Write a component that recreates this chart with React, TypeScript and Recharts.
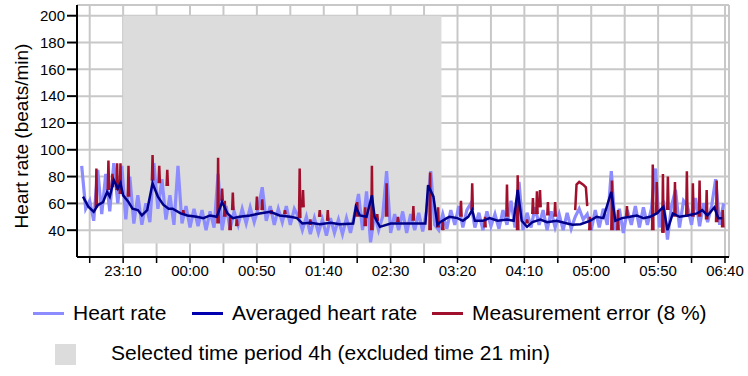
import { LineChart, Line, XAxis, YAxis, CartesianGrid, ReferenceArea, ReferenceLine, Label } from "recharts";

// times are minutes after 22:00
const HR_START = 39;
const HR_STEP = 3;

const heartRate = [
  88, 56, 62, 47, 85, 52, 82, 54, 90, 60, 88, 48, 80, 45, 66, 44, 60, 46, 90, 56,
  78, 48, 66, 44, 88, 45, 58, 42, 56, 43, 55, 40, 54, 42, 82, 40, 58, 41, 54, 44,
  56, 45, 57, 46, 56, 72, 47, 58, 44, 56, 46, 58, 44, 56, 50, 40, 50, 37, 49, 38,
  48, 36, 49, 38, 48, 37, 49, 38, 52, 67, 40, 69, 31, 52, 40, 50, 84, 38, 52, 40,
  54, 38, 52, 40, 53, 39, 55, 84, 44, 40, 52, 41, 55, 44, 58, 42, 55, 60, 42, 53,
  40, 54, 43, 52, 41, 55, 44, 62, 42, 76, 40, 53, 42, 57, 44, 55, 40, 54, 42, 52,
  40, 53, 41, 50, 56, 48, 52, 40, 55, 42, 56, 44, 84, 40, 56, 38, 55, 44, 58, 42,
  57, 44, 56, 86, 42, 62, 33, 58, 70, 42, 62, 58, 44, 64, 43, 60, 46, 58, 78, 44,
  60,
];

const averaged: [number, number][] = [
  [40, 65], [44, 57.5], [48, 53.7], [51, 58.7], [55, 61], [58, 68.6], [60, 65], [63, 77.4],
  [66, 71], [68, 75], [70, 66], [74, 61], [77, 56], [81, 55], [84, 51], [88, 55], [92, 75],
  [96, 65], [100, 59], [104, 56], [107, 56], [113, 52.5], [118, 51], [125, 50], [130, 49],
  [135, 51], [140, 50], [144, 61], [148, 52.5], [152, 49], [157, 50], [165, 51], [172, 52.5],
  [180, 53.7], [187, 51], [195, 50], [200, 49], [204, 45], [210, 45.5], [217, 44.5],
  [225, 45.5], [232, 44.5], [242, 45], [244, 57.4], [247, 51], [252, 50], [256, 66],
  [258, 50], [262, 42.5], [270, 45], [279, 45], [292, 45], [296, 45], [298, 73.6], [302, 65],
  [305, 44], [307, 46], [312, 49], [314, 50], [320, 49], [324, 47], [328, 50], [331, 55],
  [333, 47], [339, 47], [344, 49], [350, 47], [357, 48], [362, 47], [365, 70], [368, 47],
  [372, 42.5], [376, 46], [382, 48], [387, 46], [394, 47], [402, 45], [406, 44], [412, 44.5],
  [419, 47], [424, 50], [429, 49], [435, 68.6], [438, 47], [443, 49], [449, 50], [454, 51],
  [459, 49], [464, 50], [469, 52.5], [474, 57.4], [477, 40], [481, 52.5], [486, 50],
  [492, 51], [499, 52.5], [503, 55], [507, 51], [512, 57], [515, 49], [518, 49],
];

// flagged readings: [time, low, high]
const errorSpikes: [number, number, number][] = [
  [50, 57, 86], [59, 70, 92], [62, 72, 82], [65.5, 70, 90], [68, 67, 90], [74, 65, 88],
  [92, 77, 96], [97, 75, 88], [103, 73, 85], [115, 52, 55], [141, 45, 94], [144, 62, 71],
  [146, 50, 62], [150, 40, 50], [152, 55, 68], [155, 43, 48], [170, 55, 65], [174, 55, 63],
  [181, 52, 55], [191, 52, 55], [202, 49, 86], [204.5, 57, 70], [210, 44, 48], [217, 50, 55],
  [223, 47, 55], [245, 50, 61], [251, 43, 57], [256, 40, 88], [260, 47, 52], [267, 50, 75],
  [275.5, 46, 50], [287, 47, 58], [299.5, 40, 83], [305.5, 42, 57], [309, 40, 47],
  [322.6, 50, 62], [331, 55, 75], [340.6, 42, 50], [357, 50, 74], [365, 40, 81], [372, 45, 48],
  [376.4, 52, 64], [379.4, 52, 69], [381.7, 57, 70], [387.6, 51, 61], [393, 50, 61],
  [419, 40, 50], [435.5, 40, 77], [440, 40, 55], [446.7, 50, 58], [466, 40, 89], [469, 52, 76],
  [473.6, 38, 82], [477.3, 55, 80], [482.6, 50, 76], [491.5, 50, 84], [496, 50, 75],
  [501, 50, 77], [506.3, 48, 70], [513.8, 46, 77], [518.3, 42, 55],
];
const errorHump: [number, number][] = [[408, 55], [409, 74], [411, 76], [414, 74], [416, 72], [417, 58]];

const xTicks = [45, 70, 95, 120, 145, 170, 195, 220, 245, 270, 295, 320, 345, 370, 395, 420, 445, 470, 495, 520];
const yTicks = [40, 60, 80, 100, 120, 140, 160, 180, 200];
const selected = { from: 70, to: 308, low: 30, high: 200 };

const HR_COLOR = "#8c8cff";
const AVG_COLOR = "#000088";
const ERR_COLOR = "#a0102c";
const FONT = '"Liberation Sans", Arial, sans-serif';

const hrData = heartRate.map((v, i) => ({ t: HR_START + i * HR_STEP, v }));
const avgData = averaged.map(([t, v]) => ({ t, v }));
const errData: { t: number; v: number | null }[] = [];
errorSpikes.forEach(([t, lo, hi]) => {
  errData.push({ t: t - 0.5, v: lo }, { t, v: hi }, { t: t + 0.5, v: lo }, { t: t + 0.6, v: null });
});
errorHump.forEach(([t, v]) => errData.push({ t, v }));

const fmtTime = (t: number) => {
  if ((t - 70) % 50 !== 0) return "";
  const h = (22 + Math.floor(t / 60)) % 24;
  const m = t % 60;
  return `${String(h).padStart(2, "0")}:${String(m).padStart(2, "0")}`;
};

function LegendLine({ color, label, left }: { color: string; label: string; left: number }) {
  return (
    <div style={{ position: "absolute", left, top: 300, display: "flex", alignItems: "center", height: 26 }}>
      <div style={{ width: 31, height: 3, background: color, marginRight: 9 }} />
      <span style={{ fontSize: 21, whiteSpace: "nowrap" }}>{label}</span>
    </div>
  );
}

export default function App() {
  return (
    <div style={{ position: "absolute", left: 0, top: 0, width: 748, height: 376, background: "#fff", fontFamily: FONT, color: "#000" }}>
      <LineChart width={748} height={290} margin={{ top: 5, right: 19, left: 0, bottom: 0 }}>
        <CartesianGrid stroke="#c8c8c8" strokeWidth={2} />
        <ReferenceArea x1={selected.from} x2={selected.to} y1={selected.low} y2={selected.high} fill="#dcdcdc" fillOpacity={1} stroke="none" />
        <ReferenceLine x={523} stroke="#c8c8c8" strokeWidth={1.5} />
        <XAxis
          type="number"
          dataKey="t"
          domain={[35.5, 523]}
          ticks={xTicks}
          allowDataOverflow
          tickFormatter={fmtTime}
          height={33}
          tickSize={6}
          tickMargin={2}
          axisLine={{ stroke: "#000", strokeWidth: 2 }}
          tickLine={{ stroke: "#000", strokeWidth: 1.5 }}
          tick={{ fontSize: 15, fill: "#000", fontFamily: FONT }}
        />
        <YAxis
          type="number"
          domain={[20, 208]}
          ticks={yTicks}
          allowDataOverflow
          width={77}
          tickSize={10}
          tickMargin={2}
          axisLine={{ stroke: "#000", strokeWidth: 2 }}
          tickLine={{ stroke: "#000", strokeWidth: 2 }}
          tick={{ fontSize: 15, fill: "#000", fontFamily: FONT }}
        >
          <Label
            content={({ viewBox }: any) => {
              const cx = 21;
              const cy = viewBox.y + viewBox.height / 2 + 5;
              return (
                <text x={cx} y={cy} transform={`rotate(-90, ${cx}, ${cy})`} textAnchor="middle" dominantBaseline="central" fontSize={19} fontFamily={FONT} fill="#000">
                  Heart rate (beats/min)
                </text>
              );
            }}
          />
        </YAxis>
        <Line data={hrData} dataKey="v" stroke={HR_COLOR} strokeWidth={3.2} dot={false} isAnimationActive={false} type="linear" />
        <Line data={errData} dataKey="v" stroke={ERR_COLOR} strokeWidth={2.5} dot={false} isAnimationActive={false} type="linear" />
        <Line data={avgData} dataKey="v" stroke={AVG_COLOR} strokeWidth={2.5} dot={false} isAnimationActive={false} type="linear" />
      </LineChart>
      <LegendLine color={HR_COLOR} label="Heart rate" left={33} />
      <LegendLine color="#0000b0" label="Averaged heart rate" left={192} />
      <LegendLine color={ERR_COLOR} label="Measurement error (8 %)" left={432} />
      <div style={{ position: "absolute", left: 55, top: 344, width: 21, height: 21, background: "#dcdcdc" }} />
      <div style={{ position: "absolute", left: 111, top: 340, height: 26, display: "flex", alignItems: "center", fontSize: 21, whiteSpace: "nowrap" }}>
        Selected time period 4h (excluded time 21 min)
      </div>
    </div>
  );
}
